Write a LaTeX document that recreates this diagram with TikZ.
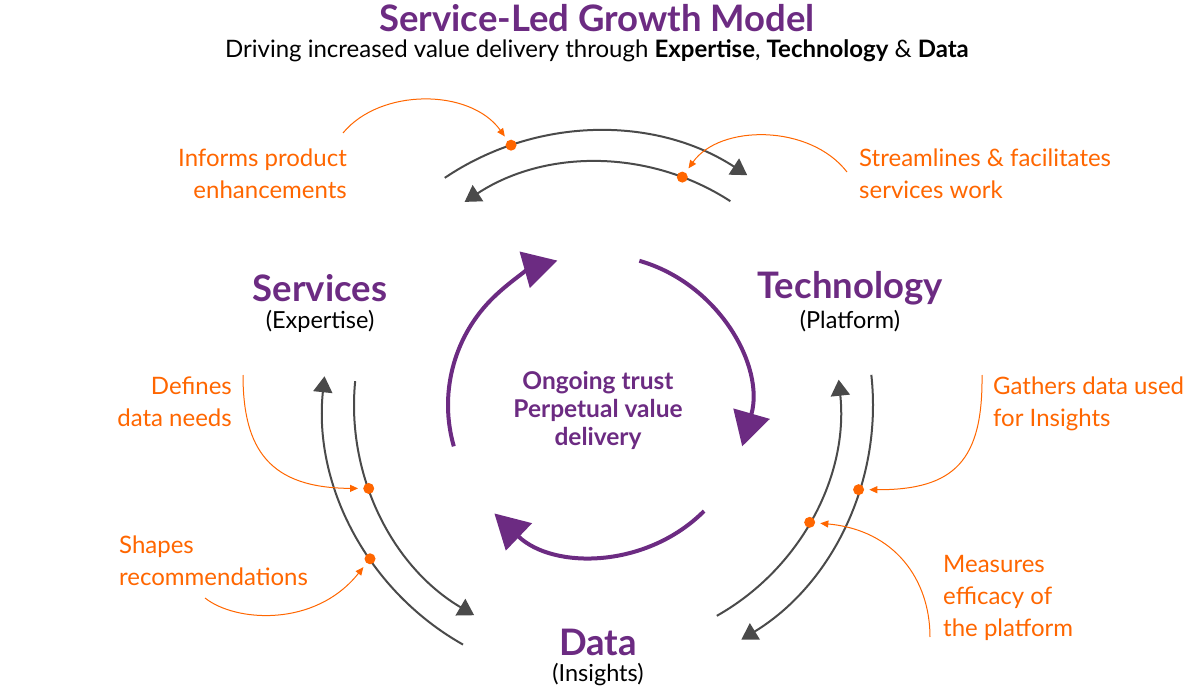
\documentclass[tikz,border=0pt]{standalone}
\usepackage{fontspec}
\setmainfont{Lato}
\usetikzlibrary{arrows.meta}
\definecolor{lpurple}{RGB}{108,43,130}
\definecolor{lorange}{RGB}{255,102,0}
\definecolor{lgray}{RGB}{74,74,74}
\begin{document}
\begin{tikzpicture}[x=1pt,y=-1pt,
  cyc/.style={draw=lpurple, line width=4pt, -{Triangle[length=34pt,width=37pt]}},
  flow/.style={draw=lgray, line width=2pt, -{Triangle[length=16pt,width=19pt]}},
  dot/.style={circle, fill=lorange, inner sep=0pt, minimum size=11pt},
  callout/.style={draw=lorange, line width=1pt, -{Triangle[length=8pt,width=7pt]}, shorten >=5pt},
  otext/.style={text=lorange, font=\fontsize{24}{32}\selectfont, inner sep=0pt},
  pillar/.style={text=lpurple, font=\fontsize{36.5}{40}\selectfont\bfseries, inner sep=0pt},
  sub/.style={text=black, font=\fontsize{23.5}{26}\selectfont, inner sep=0pt}
]
\useasboundingbox (0,0) rectangle (1200,690);
\coordinate (C) at (598,405);

% title
\node[text=lpurple, font=\fontsize{36.5}{40}\selectfont\bfseries, inner sep=0pt] (title) at (597,18) {Service-Led Growth Model};
\node[font=\fontsize{24}{28}\selectfont, inner sep=0pt] (subtitle) at (597,51) {Driving increased value delivery through \textbf{Expertise}, \textbf{Technology} \& \textbf{Data}};

% central cycle
\draw[cyc] ([shift={(-196:150)}]C) arc[start angle=-196, end angle=-105.7, radius=150];
\draw[cyc] ([shift={(-74:150)}]C) arc[start angle=-74, end angle=16, radius=150];
\draw[cyc] ([shift={(45:150)}]C) arc[start angle=45, end angle=133.7, radius=150];
\node[text=lpurple, font=\fontsize{24.5}{28}\selectfont\bfseries, align=center, inner sep=0pt] (core) at (598,410) {Ongoing trust\\Perpetual value\\delivery};

% pillars
\node[pillar] (serv) at (320,288) {Services};
\node[sub] (servs) at (320,321) {(Expertise)};
\node[pillar] (tech) at (850,288) {Technology};
\node[sub] (techs) at (850,321) {(Platform)};
\node[pillar] (data) at (598,642) {Data};
\node[sub] (datas) at (598,675) {(Insights)};

% outer flows
\draw[flow] ([shift={(-124:274)}]C) arc[start angle=-124, end angle=-57, radius=274];
\draw[flow] ([shift={(-57:243)}]C) arc[start angle=-57, end angle=-123.3, radius=243];
\draw[flow] ([shift={(-240.6:275)}]C) arc[start angle=-240.6, end angle=-174, radius=275];
\draw[flow] ([shift={(-174.4:244)}]C) arc[start angle=-174.4, end angle=-239.5, radius=244];
\draw[flow] ([shift={(60.6:242)}]C) arc[start angle=60.6, end angle=-6, radius=242];
\draw[flow] ([shift={(-6.3:275)}]C) arc[start angle=-6.3, end angle=58.6, radius=275];

% dots
\node[dot] (d1) at ([shift={(-108.5:274)}]C) {};
\node[dot] (d2) at ([shift={(-69.7:243)}]C) {};
\node[dot] (d3) at ([shift={(-200:244)}]C) {};
\node[dot] (d4) at ([shift={(-214:275)}]C) {};
\node[dot] (d5) at ([shift={(18:274)}]C) {};
\node[dot] (d6) at ([shift={(29:242)}]C) {};

% callout texts
\node[otext, anchor=east, align=right] (t1) at (347,174) {Informs product\\enhancements};
\node[otext, anchor=west, align=left] (t2) at (859,174) {Streamlines \& facilitates\\services work};
\node[otext, anchor=east, align=right] (t3) at (232,402) {Defines\\data needs};
\node[otext, anchor=west, align=left] (t4) at (119,561) {Shapes\\recommendations};
\node[otext, anchor=west, align=left] (t5) at (993,404) {Gathers data used\\for Insights};
\node[otext, anchor=west, align=left] (t6) at (943,598) {Measures\\efficacy of\\the platform};

% callout lines
\coordinate (s1) at (343,133);
\coordinate (s2) at (847,172);
\coordinate (s3) at (243,375);
\coordinate (s4) at (205,598);
\coordinate (s5) at (982,375);
\coordinate (s6) at (930,637);
\draw[callout] (s1) .. controls (380,88) and (470,88) .. (d1);
\draw[callout] (s2) .. controls (810,124) and (720,124) .. (d2);
\draw[callout] (s3) .. controls (243,450) and (270,488) .. (d3);
\draw[callout] (s4) .. controls (235,622) and (315,628) .. (d4);
\draw[callout] (s5) .. controls (983,460) and (955,490) .. (d5);
\draw[callout] (s6) .. controls (930,580) and (895,530) .. (d6);
\end{tikzpicture}
\end{document}
